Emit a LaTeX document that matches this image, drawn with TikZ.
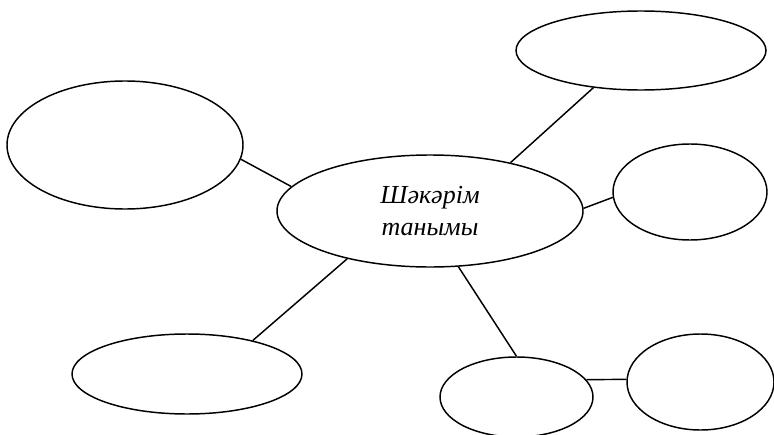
\documentclass[tikz,border=0pt]{standalone}
\usepackage{fontspec}
\setmainfont{Liberation Serif}
\usetikzlibrary{shapes.geometric}

\tikzset{
  bubble/.style={draw, ellipse, line width=1.1pt, inner sep=0pt},
  link/.style={line width=1.1pt}
}

\begin{document}
\begin{tikzpicture}[x=0.75pt,y=0.75pt,yscale=-1,xscale=1]

\clip (0,0) rectangle (774,435);

%Shape: Ellipse (centre)
\node [bubble, minimum width=229.5pt, minimum height=84pt, align=center,
  font=\fontsize{19.5pt}{23.5pt}\selectfont\itshape] (core) at (430,211) {Шәкәрім\\танымы};
%Shape: Ellipse (top right)
\node [bubble, minimum width=187.5pt, minimum height=59.25pt] (topr) at (641,50.5) {};
%Shape: Ellipse (left)
\node [bubble, minimum width=177pt, minimum height=96pt] (left) at (125,145) {};
%Shape: Ellipse (right)
\node [bubble, minimum width=115.5pt, minimum height=72pt] (right) at (690,192) {};
%Shape: Ellipse (bottom left)
\node [bubble, minimum width=172.5pt, minimum height=60pt] (botl) at (187,374) {};
%Shape: Ellipse (bottom middle)
\node [bubble, minimum width=114.75pt, minimum height=60pt] (botm) at (516.5,397) {};
%Shape: Ellipse (bottom right)
\node [bubble, minimum width=110.25pt, minimum height=72pt] (botr) at (700.5,382) {};

%Straight Lines
\draw [link] (core.170) -- (left.353);
\draw [link] (core.31) -- (topr.218);
\draw [link] (core.1) -- (right.184);
\draw [link] (core.210) -- (botl.27);
\draw [link] (core.297) -- (botm.90);
\draw [link] (botm.14) -- (botr.178);

\end{tikzpicture}
\end{document}
